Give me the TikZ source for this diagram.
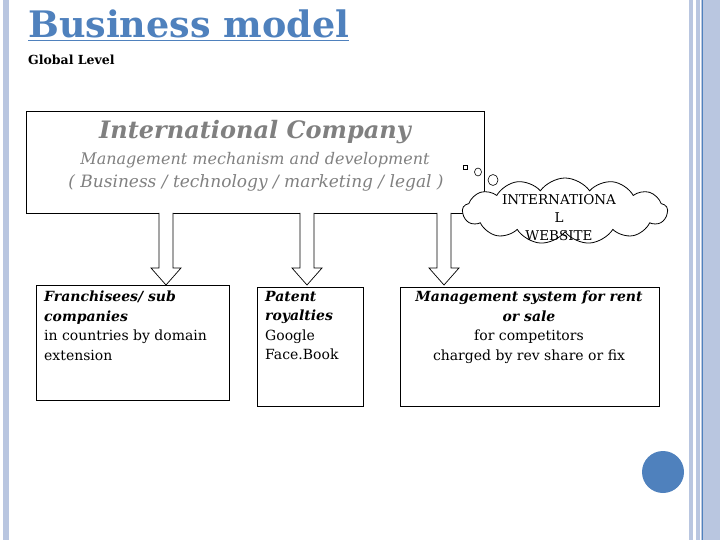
\documentclass[tikz,border=0pt]{standalone}
\usepackage{fontspec}
\setmainfont{DejaVu Serif}
\usetikzlibrary{shapes.symbols}
\definecolor{tb}{RGB}{79,129,189}
\definecolor{lb}{RGB}{185,198,224}
\definecolor{gt}{RGB}{128,128,128}
\begin{document}
\begin{tikzpicture}[x=1pt,y=-1pt,
 blk/.style={draw,line width=0.7pt,fill=white},
 txt/.style={font=\fontsize{14}{19.5}\selectfont,align=left,anchor=north west,inner sep=0pt}]
\useasboundingbox (0,0) rectangle (720,540);
\fill[lb] (3,0) rectangle (9,540);
\fill[lb] (689,0) rectangle (693,540);
\fill[lb] (696,0) rectangle (720,540);
\draw[tb,line width=0.8pt] (702,0) -- (702,540);
\fill[white] (700,0) rectangle (701,540);
\node[anchor=north west,inner sep=0pt,text=tb,font=\fontsize{36.5}{38}\selectfont\bfseries] (title) at (28,10) {\underline{Business model}};
\node[anchor=north west,inner sep=0pt,font=\fontsize{12.5}{14}\selectfont\bfseries] (gl) at (28,55) {Global Level};
\draw[line width=0.8pt] (26,111) rectangle (484,213);
\node[text=gt,font=\fontsize{24}{26}\selectfont\bfseries\itshape] (t1) at (255,132) {International Company};
\node[text=gt,font=\fontsize{16}{18}\selectfont\itshape] (t2) at (255,160) {Management mechanism and development};
\node[text=gt,font=\fontsize{17}{18}\selectfont\itshape] (t3) at (256,183) {( Business / technology / marketing / legal )};
\foreach \n/\x in {a1/166,a2/307,a3/444}{
 \draw[blk] (\x-7,213) -- (\x-7,268) -- (\x-15,268) -- (\x,285) -- (\x+15,268) -- (\x+7,268) -- (\x+7,213);
 \coordinate (\n) at (\x,285);
}
\node[cloud,draw,fill=white,line width=0.8pt,cloud puffs=13,cloud puff arc=110,aspect=3.2,minimum width=205pt,minimum height=66pt,inner sep=0pt] (cl) at (565,211) {};
\node[font=\fontsize{13.5}{18}\selectfont,align=center] (clt) at (559,218) {INTERNATIONA\\L\\WEBSITE};
\draw[line width=0.6pt] (463,165) rectangle (467,169);
\draw[line width=0.6pt] (478,172) ellipse (3.5 and 4);
\draw[line width=0.6pt] (493,180) ellipse (5 and 5.5);
\draw[line width=0.8pt] (36,285) rectangle (229,400);
\node[txt] (b1) at (44,291) {\textbf{\textit{Franchisees/ sub}}\\\textbf{\textit{companies}}\\in countries by domain\\extension};
\draw[line width=0.8pt] (257,287) rectangle (363,406);
\node[txt] (b2) at (265,291) {\textbf{\textit{Patent}}\\\textbf{\textit{royalties}}\\Google\\Face.Book};
\draw[line width=0.8pt] (400,287) rectangle (659,406);
\node[txt,align=center,anchor=north] (b3) at (529,291) {\textbf{\textit{Management system for rent}}\\\textbf{\textit{or sale}}\\for competitors\\charged by rev share or fix};
\fill[tb] (663,472) circle (21);
\end{tikzpicture}
\end{document}
